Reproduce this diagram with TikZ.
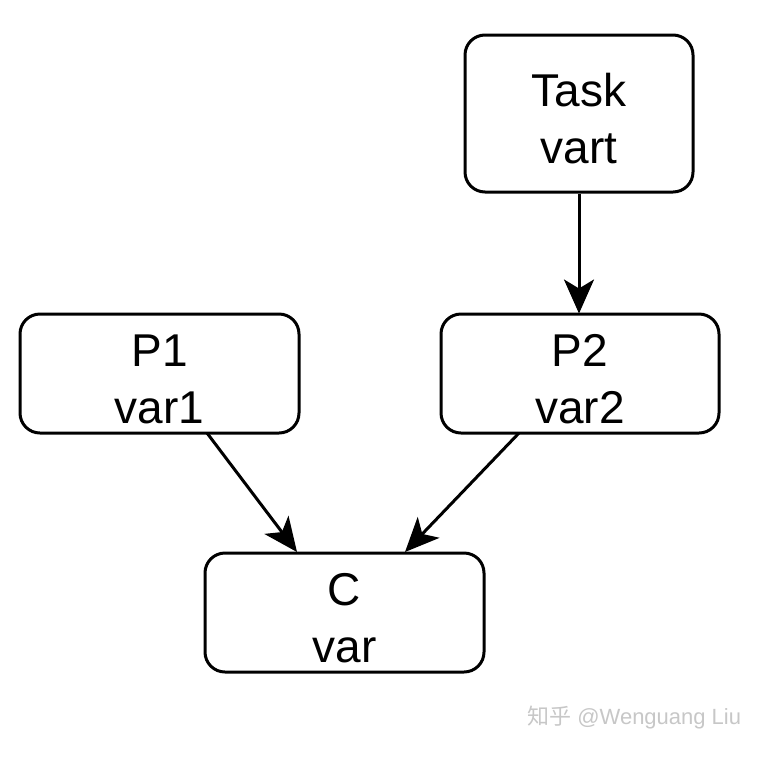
\documentclass[tikz,border=0pt]{standalone}
\usepackage{fontspec}
\setmainfont{Liberation Sans}
\newfontfamily\cjk{Noto Sans CJK SC}
\usetikzlibrary{arrows.meta}
\begin{document}
\begin{tikzpicture}[x=1pt,y=-1pt,
  box/.style={draw,line width=3pt,rounded corners=20pt,inner sep=0pt},
  lbl/.style={inner sep=0pt,align=center,font=\fontsize{46}{57}\selectfont},
  conn/.style={line width=3pt,-{Stealth[length=34pt,width=30pt,inset=9pt]}}]
\useasboundingbox (0,0) rectangle (762,756);
\node[box,minimum width=228pt,minimum height=157pt] (task) at (579,113.5) {};
\node[box,minimum width=279pt,minimum height=119pt] (p1) at (159.5,373.5) {};
\node[box,minimum width=278pt,minimum height=119pt] (p2) at (580,373.5) {};
\node[box,minimum width=279pt,minimum height=119pt] (c) at (344.5,612.5) {};
\node[lbl] (taskt) at ([yshift=-5pt]task.center) {Task\\vart};
\node[lbl] (p1t) at ([yshift=-6pt]p1.center) {P1\\var1};
\node[lbl] (p2t) at ([yshift=-6pt]p2.center) {P2\\var2};
\node[lbl] (ct) at ([yshift=-6pt]c.center) {C\\var};
\coordinate (tin) at (579,313.5);
\draw[conn] (task.south -| tin) -- (tin);
\coordinate (p1s) at (207,433);
\coordinate (cin1) at (297,552);
\coordinate (p2s) at (519,433);
\coordinate (cin2) at (405,552);
\draw[conn] (p1s) -- (cin1);
\draw[conn] (p2s) -- (cin2);
\node[anchor=west,text=black!22,font=\fontsize{22}{26}\selectfont,inner sep=0pt] (wm) at (527,718) {{\cjk 知乎} @Wenguang Liu};
\end{tikzpicture}
\end{document}
